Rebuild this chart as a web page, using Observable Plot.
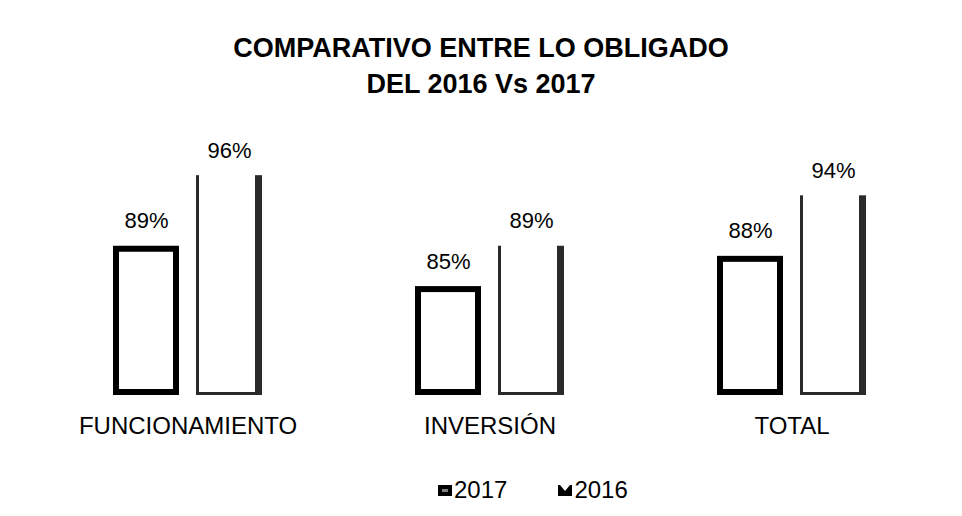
<!DOCTYPE html>
<html>
<head>
<meta charset="utf-8">
<script src="https://cdn.jsdelivr.net/npm/d3@7"></script>
<script src="https://cdn.jsdelivr.net/npm/@observablehq/plot@0.6"></script>
<style>
  html, body { margin: 0; padding: 0; background: #fff; }
  body { width: 962px; height: 516px; position: relative; overflow: hidden; font-family: "Liberation Sans", Arial, sans-serif; color: #000; }
  #title { position: absolute; left: 0; top: 30px; width: 962px; text-align: center; font-weight: bold; font-size: 27px; line-height: 36px; }
  #chart { position: absolute; left: 0; top: 110px; }
  #legend { position: absolute; left: 438px; top: 474px; font-size: 24px; display: flex; align-items: center; height: 32px; }
  #legend .item { display: flex; align-items: center; }
  #legend svg { margin-right: 2px; }
</style>
</head>
<body>
<div id="title">COMPARATIVO ENTRE LO OBLIGADO<br>DEL 2016 Vs 2017</div>
<div id="chart"></div>
<div id="legend">
  <div class="item"><svg width="14" height="14" viewBox="0 0 14 14"><rect x="0" y="2" width="14" height="11" fill="#000"/><rect x="4" y="6" width="6" height="3" fill="#fff" opacity="0.5"/></svg><span>2017</span></div>
  <div class="item" style="margin-left:51px"><svg width="14" height="14" viewBox="0 0 14 14"><path d="M0,2 L0,13 L14,13 L14,2 L12,2 L7,8 L2,2 Z" fill="#000"/></svg><span>2016</span></div>
</div>
<script>
const categories = ["FUNCIONAMIENTO", "INVERSIÓN", "TOTAL"];
const years = ["2017", "2016"];
const values2017 = [0.89, 0.85, 0.88];
const values2016 = [0.96, 0.89, 0.94];

const yBase = 0.742;

const data = [];
categories.forEach((c, i) => {
  data.push({cat: c, year: "2017", value: values2017[i]});
  data.push({cat: c, year: "2016", value: values2016[i]});
});
const d2017 = data.filter(d => d.year === "2017");
const d2016 = data.filter(d => d.year === "2016");

const chart = Plot.plot({
  width: 962,
  height: 340,
  marginLeft: 36,
  marginRight: 19,
  marginTop: 45,
  marginBottom: 55,
  style: {fontFamily: "'Liberation Sans', Arial, sans-serif", background: "transparent", color: "#000"},
  fx: {domain: categories, paddingInner: 0.5, paddingOuter: 0.25, label: null},
  x: {domain: years, paddingInner: 0.2, paddingOuter: 0, axis: null},
  y: {domain: [yBase, 0.98], axis: null},
  marks: [
    // 2017 bars: thick black frame, white inside
    Plot.barY(d2017, {fx: "cat", x: "year", y1: d => yBase, y2: "value", fill: "#000"}),
    Plot.barY(d2017, {fx: "cat", x: "year", y1: d => yBase, y2: "value", fill: "#fff", insetLeft: 6, insetRight: 6, insetTop: 6, insetBottom: 6}),
    // 2016 bars: open top, thin left, thick textured right, thin bottom
    Plot.barY(d2016, {fx: "cat", x: "year", y1: d => yBase, y2: "value", fill: "#2a2a2a"}),
    Plot.barY(d2016, {fx: "cat", x: "year", y1: d => yBase, y2: "value", fill: "#fff", insetLeft: 3, insetRight: 7, insetTop: -2, insetBottom: 3}),
    Plot.text(data, {fx: "cat", x: "year", y: "value", text: d => Math.round(d.value * 100) + "%", dy: -25, fontSize: 22, fill: "#000"}),
    Plot.axisFx({anchor: "bottom", tickSize: 0, tickPadding: 21, fontSize: 24, label: null})
  ]
});
document.getElementById("chart").appendChild(chart);
</script>
</body>
</html>
